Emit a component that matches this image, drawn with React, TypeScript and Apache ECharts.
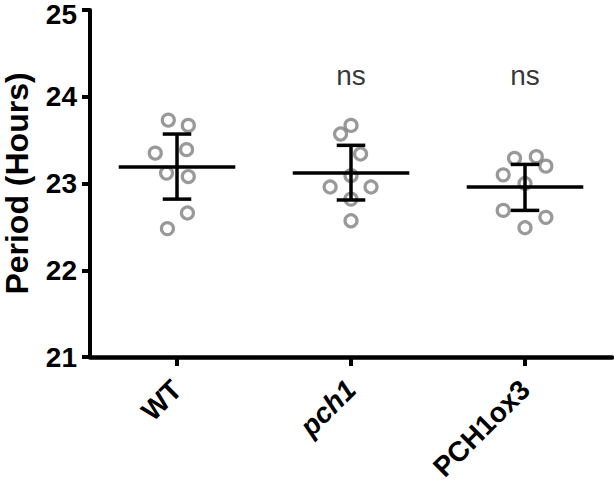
import React, { useEffect, useRef } from "react";
import * as echarts from "echarts";

const categories = ["WT", "pch1", "PCH1ox3"];
const wtValues = [23.73, 23.67, 23.35, 23.39, 23.12, 23.08, 22.66, 22.48];
const wtJitter = [-0.05, 0.065, -0.125, 0.055, -0.06, 0.065, 0.06, -0.055];
const pch1Values = [23.67, 23.57, 23.34, 23.09, 22.96, 22.96, 22.82, 22.57];
const pch1Jitter = [0.0, -0.06, 0.055, 0.0, -0.12, 0.115, 0.0, 0.0];
const oxValues = [23.29, 23.31, 23.2, 23.1, 23.0, 22.69, 22.61, 22.49];
const oxJitter = [-0.06, 0.065, 0.12, -0.125, 0.0, -0.125, 0.12, 0.0];
const means = [23.19, 23.12, 22.96];
const errLow = [22.82, 22.81, 22.69];
const errHigh = [23.57, 23.44, 23.22];
const sigLabels = ["", "ns", "ns"];
const yTicks = [21, 22, 23, 24, 25];

const FONT = "'Liberation Sans', Arial, Helvetica, sans-serif";

export default function App() {
  const ref = useRef<HTMLDivElement>(null);
  useEffect(() => {
    if (!ref.current) return;
    const chart = echarts.init(ref.current, null, { renderer: "svg" });
    const groups = [wtValues, pch1Values, oxValues];
    const jitters = [wtJitter, pch1Jitter, oxJitter];
    const scatterData: number[][] = [];
    groups.forEach((vals, gi) => {
      vals.forEach((v, k) => scatterData.push([gi + 0.5 + jitters[gi][k], v]));
    });
    const statData = means.map((m, i) => [i, m, errLow[i], errHigh[i]]);
    const sigData = sigLabels
      .map((s, i) => ({ value: [i + 0.5, 24.24], label: s }))
      .filter((d) => d.label !== "");
    const yMax = yTicks[yTicks.length - 1];

    chart.setOption({
      animation: false,
      backgroundColor: "#fff",
      grid: { left: 90, right: 2, top: 10, bottom: 125, containLabel: false, outerBoundsMode: "none" },
      xAxis: [
        {
          type: "category",
          data: categories,
          boundaryGap: true,
          axisLine: { show: true, lineStyle: { color: "#000", width: 4.5 } },
          axisTick: { show: true, alignWithLabel: true, length: 9, lineStyle: { color: "#000", width: 4 } },
          axisLabel: {
            rotate: 45,
            margin: 28,
            color: "#000",
            fontSize: 28,
            fontWeight: "bold",
            fontFamily: FONT,
            formatter: (v: string) => (v === "pch1" ? `{i|${v}}` : v),
            rich: {
              i: { fontStyle: "italic", fontWeight: "bold", fontSize: 28, fontFamily: FONT, color: "#000" },
            },
          },
          splitLine: { show: false },
        },
        { type: "value", min: 0, max: 3, show: false },
      ],
      yAxis: {
        type: "value",
        min: yTicks[0],
        max: yMax,
        interval: 1,
        name: "Period (Hours)",
        nameLocation: "middle",
        nameRotate: 90,
        nameGap: 57,
        nameTextStyle: { fontSize: 32, lineHeight: 32, fontWeight: "bold", fontFamily: FONT, color: "#000" },
        axisLine: { show: true, lineStyle: { color: "#000", width: 4 } },
        axisTick: { show: true, length: 8, lineStyle: { color: "#000", width: 4 } },
        axisLabel: {
          margin: 13,
          color: "#000",
          fontSize: 28,
          fontWeight: "bold",
          fontFamily: FONT,
          formatter: (v: number) => (v === yMax ? `{t|${v}}` : `${v}`),
          rich: {
            t: { padding: [9, 0, 0, 0], fontSize: 28, fontWeight: "bold", fontFamily: FONT, color: "#000" },
          },
        },
        splitLine: { show: false },
      },
      series: [
        {
          type: "scatter",
          xAxisIndex: 1,
          yAxisIndex: 0,
          data: scatterData,
          symbol: "circle",
          symbolSize: 12,
          itemStyle: { color: "rgba(0,0,0,0)", borderColor: "#808080", borderWidth: 3.2 },
          z: 2,
        },
        {
          type: "custom",
          xAxisIndex: 1,
          yAxisIndex: 0,
          data: statData,
          encode: { x: 0, y: 1 },
          z: 5,
          renderItem: (params: any, api: any) => {
            const i = api.value(0);
            const mean = api.value(1);
            const lo = api.value(2);
            const hi = api.value(3);
            const c = i + 0.5;
            const pL = api.coord([c - 0.335, mean]);
            const pR = api.coord([c + 0.335, mean]);
            const pHi = api.coord([c, hi]);
            const pLo = api.coord([c, lo]);
            const capL = api.coord([c - 0.082, hi]);
            const capR = api.coord([c + 0.082, hi]);
            const style = { stroke: "#000", lineWidth: 3.5 };
            return {
              type: "group",
              children: [
                { type: "line", shape: { x1: pL[0], y1: pL[1], x2: pR[0], y2: pR[1] }, style },
                { type: "line", shape: { x1: pHi[0], y1: pHi[1], x2: pLo[0], y2: pLo[1] }, style },
                { type: "line", shape: { x1: capL[0], y1: pHi[1], x2: capR[0], y2: pHi[1] }, style },
                { type: "line", shape: { x1: capL[0], y1: pLo[1], x2: capR[0], y2: pLo[1] }, style },
              ],
            };
          },
        },
        {
          type: "scatter",
          xAxisIndex: 1,
          yAxisIndex: 0,
          data: sigData.map((d) => d.value),
          symbolSize: 1,
          itemStyle: { color: "rgba(0,0,0,0)" },
          label: {
            show: true,
            position: "inside",
            formatter: "ns",
            fontSize: 28,
            color: "#000",
            fontFamily: FONT,
          },
          z: 6,
        },
      ],
    });
    return () => chart.dispose();
  }, []);
  return <div ref={ref} style={{ width: 614, height: 482, position: "absolute", left: 0, top: 0 }} />;
}
